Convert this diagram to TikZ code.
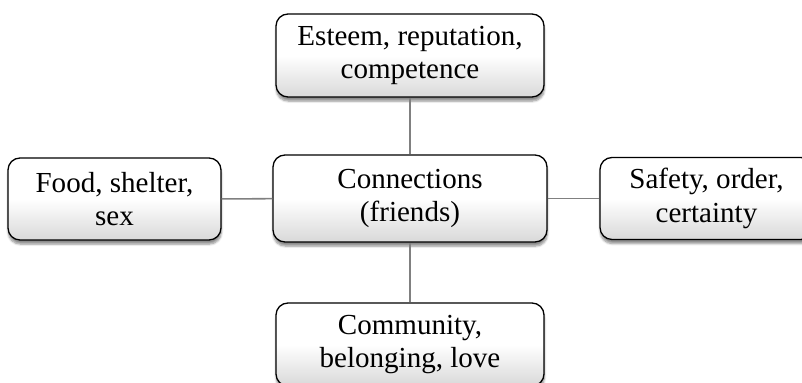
\documentclass[tikz,border=0pt]{standalone}
\usepackage{fontspec}
\setmainfont{Liberation Serif}
\usepackage{tikz}
\usetikzlibrary{shadows.blur}

\tikzset{
	need/.style={draw,line width=1.1pt,rounded corners=0.36cm,align=center,inner sep=0pt,
		top color=white,bottom color=black!15,middle color=white,
		blur shadow={shadow xshift=0.3pt,shadow yshift=-3.5pt,shadow blur steps=6,shadow opacity=45},
		font=\fontsize{24.8}{28.5}\selectfont,minimum width=6.39cm,minimum height=2.46cm},
	wide/.style={minimum width=8.04cm,minimum height=2.49cm},
	link/.style={draw=black!50,line width=1.3pt}
}

\begin{document}
\begin{tikzpicture}
	\useasboundingbox (0,0) rectangle (24.06,11.49);
	\node[need,wide](esteem) at (12.3,9.825) {Esteem, reputation,\\competence};
	\node[need,wide,minimum width=8.22cm,minimum height=2.61cm](friends) at (12.3,5.535) {Connections\\(friends)};
	\node[need](food) at (3.435,5.52) {Food, shelter,\\sex};
	\node[need](safety) at (21.195,5.535) {Safety, order,\\certainty};
	\node[need,wide](community) at (12.3,1.155) {Community,\\belonging, love};

	\draw[link] (esteem) -- (friends);
	\draw[link] (friends) -- (community);
	\draw[link] (food) -- (friends);
	\draw[link] (friends) -- (safety);
\end{tikzpicture}
\end{document}
